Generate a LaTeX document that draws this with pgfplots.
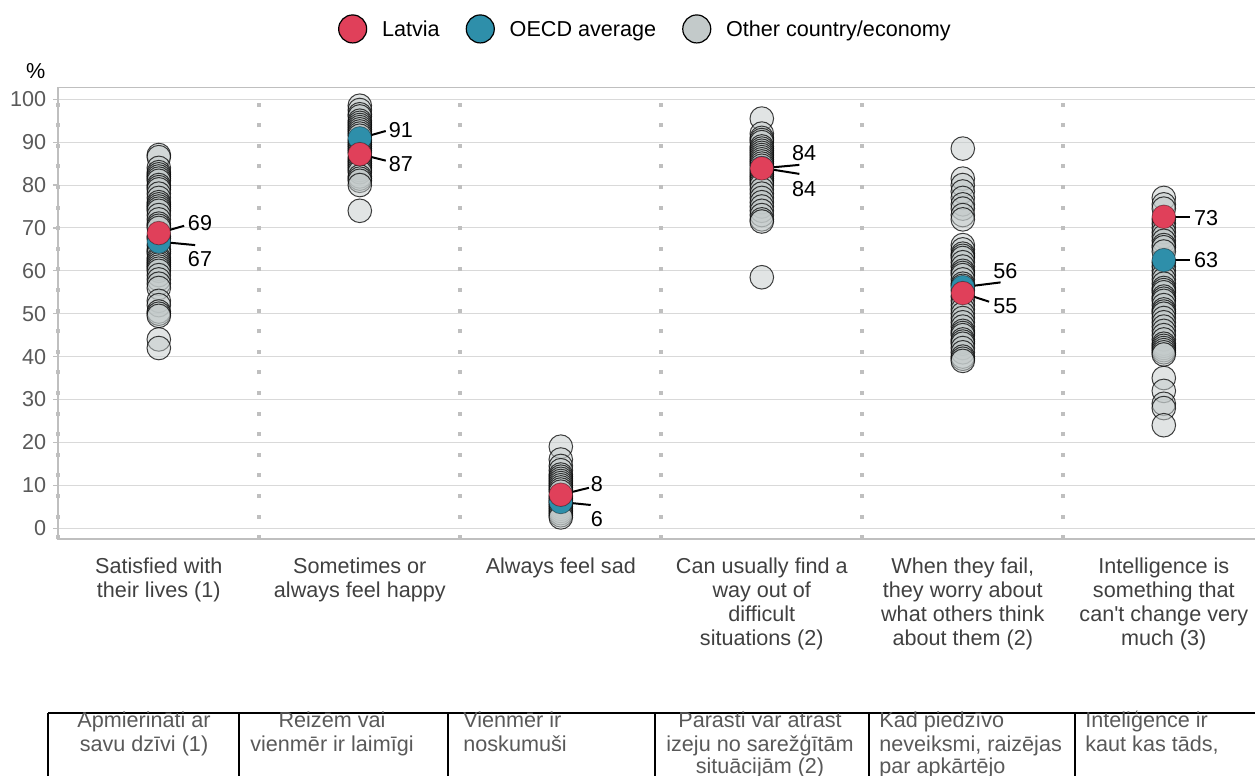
\documentclass[border=0pt]{standalone}
\usepackage{pgfplots}
\pgfplotsset{compat=1.18}
\usepackage{fontspec}
\setmainfont{Liberation Sans}
\definecolor{latvia}{HTML}{E0405A}
\definecolor{oecd}{HTML}{2E8FAA}
\definecolor{other}{HTML}{C3CACA}
\definecolor{txt}{HTML}{404040}
\definecolor{ticktxt}{HTML}{595959}
\definecolor{gridc}{HTML}{D9D9D9}
\definecolor{sepc}{HTML}{BFBFBF}
\newcommand{\fs}{\fontsize{10.8}{12}\selectfont}
\newcommand{\ls}{\rule[-0.1em]{0pt}{0.92em}}

\begin{document}
\begin{tikzpicture}[x=1pt,y=1pt]
\useasboundingbox (0,0) rectangle (627.5,388);
\begin{axis}[
  at={(29.15pt,118.35pt)}, anchor=south west,
  scale only axis, width=603pt, height=225.8pt,
  xmin=-0.5, xmax=5.5, ymin=-2.6, ymax=102.7,
  clip=false,
  axis line style={draw=sepc, line width=0.8pt},
  ytick={0,10,...,100},
  ymajorgrids, grid style={draw=gridc, line width=0.5pt},
  tick align=outside, major tick length=2.5pt,
  xtick={0,1,2,3,4,5},
  xtick style={draw=none},
  ytick style={draw=sepc, line width=0.6pt},
  xticklabels={{Satisfied with\\their lives (1)},{Sometimes or\\always feel happy},{Always feel sad},{Can usually find a\\way out of\\difficult\\situations (2)},{When they fail,\\they worry about\\what others think\\about them (2)},{Intelligence is\\something that\\can\textquotesingle t change very\\much (3)}},
  xticklabel style={align=center, anchor=north, text=txt, font=\fs, yshift=-3pt},
  yticklabel style={text=ticktxt, font=\fs},
  /pgf/number format/assume math mode=true,
  legend columns=3,
  legend style={draw=none, fill=none, font=\fs, at={(axis cs:0.86,116.4)}, anchor=west,
    /tikz/every even column/.append style={column sep=11pt}},
  legend image code/.code={\draw[#1, draw=black, line width=0.6pt] (7pt,0) circle (7pt); \path (19.5pt,0);},
]
\addlegendimage{fill=latvia}\addlegendentry{\ls Latvia}
\addlegendimage{fill=oecd}\addlegendentry{\ls OECD average}
\addlegendimage{fill=other}\addlegendentry{\ls Other country/economy}

% column separators
\foreach \s in {-0.5,0.5,1.5,2.5,3.5,4.5} {
  \edef\tmp{\noexpand\draw[sepc, line width=2pt, dash pattern=on 2pt off 8.3pt] (axis cs:\s,-2.6) -- (axis cs:\s,102.7);}
  \tmp
}

\pgfplotsset{others/.style={only marks, mark=*, mark size=5.9pt, forget plot,
  mark options={fill=other, fill opacity=0.5, draw=black, draw opacity=0.75, line width=0.5pt}}}

\addplot[others] coordinates {(0,87)(0,86.5)(0,84)(0,83)(0,82.5)(0,82)(0,81.5)(0,81)(0,80)(0,79.5)(0,79)(0,78)(0,77)(0,76)(0,75.5)(0,75)(0,74.5)(0,74)(0,73)(0,72)(0,71)(0,70.5)(0,70)(0,68)(0,67.5)(0,66)(0,65)(0,64.5)(0,64)(0,63)(0,62.5)(0,62)(0,61.5)(0,61)(0,60.5)(0,60)(0,59)(0,58)(0,57)(0,56)(0,53)(0,52)(0,50.5)(0,50)(0,49.5)(0,44)(0,42)};
\addplot[others] coordinates {(1,98.5)(1,97.5)(1,96.5)(1,96)(1,95)(1,94.5)(1,94)(1,93.5)(1,93)(1,92.5)(1,92)(1,91.5)(1,90.5)(1,90)(1,89.5)(1,89)(1,88.5)(1,88)(1,87.5)(1,86.5)(1,86)(1,85.5)(1,85)(1,84.5)(1,84)(1,83.5)(1,83)(1,82)(1,81.5)(1,81)(1,80)(1,74)};
\addplot[others] coordinates {(2,19)(2,16)(2,14.5)(2,13.5)(2,12.5)(2,12)(2,11.5)(2,11)(2,10.5)(2,10)(2,9.5)(2,9)(2,8.5)(2,7.5)(2,7)(2,6.5)(2,6)(2,5.5)(2,5)(2,4.5)(2,4)(2,3.5)(2,3)(2,2.5)};
\addplot[others] coordinates {(3,95.5)(3,92)(3,91)(3,90.5)(3,90)(3,89)(3,88.5)(3,88)(3,87.5)(3,87)(3,86.5)(3,86)(3,85.5)(3,85)(3,84.5)(3,83.5)(3,83)(3,82.5)(3,82)(3,81.5)(3,81)(3,80.5)(3,80)(3,79)(3,78)(3,77)(3,76)(3,75)(3,74)(3,73)(3,72)(3,71.5)(3,58.5)};
\addplot[others] coordinates {(4,88.5)(4,81.5)(4,80)(4,78.5)(4,77)(4,75.5)(4,74.5)(4,73)(4,72)(4,66)(4,65)(4,64)(4,63.5)(4,63)(4,62)(4,61)(4,60)(4,59.5)(4,59)(4,58)(4,57)(4,56.5)(4,55.5)(4,54)(4,53)(4,52)(4,51)(4,50)(4,49)(4,48)(4,47)(4,46)(4,45.5)(4,45)(4,44)(4,43.5)(4,43)(4,42)(4,41)(4,40)(4,39.5)(4,39)};
\addplot[others] coordinates {(5,77)(5,75.5)(5,74.5)(5,72)(5,71)(5,70)(5,69)(5,68)(5,67)(5,66)(5,65.5)(5,64.5)(5,62)(5,61)(5,60)(5,59)(5,58)(5,57)(5,56)(5,55.5)(5,55)(5,54)(5,53.5)(5,53)(5,52)(5,51)(5,50.5)(5,50)(5,49)(5,48)(5,47)(5,46)(5,45)(5,44)(5,43)(5,42.5)(5,42)(5,41.5)(5,41)(5,40.5)(5,35)(5,32)(5,29)(5,28)(5,24)};

% OECD average
\addplot[only marks, mark=*, mark size=5.9pt, forget plot,
  mark options={fill=oecd, draw=black, draw opacity=0.4, line width=0.4pt}]
  coordinates {(0,66.8)(1,90.9)(2,6.1)(3,84)(4,56.2)(5,62.5)};
% Latvia
\addplot[only marks, mark=*, mark size=5.9pt, forget plot,
  mark options={fill=latvia, draw=black, draw opacity=0.4, line width=0.4pt}]
  coordinates {(0,68.8)(1,87.2)(2,7.8)(3,83.9)(4,54.8)(5,72.6)};

% value labels
\tikzset{lead/.style={black, line width=1pt}, vl/.style={font=\fs, text=black, inner sep=0pt}}
\draw[lead] (axis cs:0,68.8) -- (axis cs:0.126,70.5); \node[vl] at (axis cs:0.205,71.1) {69};
\draw[lead] (axis cs:0,66.8) -- (axis cs:0.181,66.0); \node[vl] at (axis cs:0.205,62.8) {67};
\draw[lead] (axis cs:1,90.9) -- (axis cs:1.129,92.6); \node[vl] at (axis cs:1.204,92.8) {91};
\draw[lead] (axis cs:1,87.2) -- (axis cs:1.129,85.7); \node[vl] at (axis cs:1.204,84.8) {87};
\draw[lead] (axis cs:2,7.8) -- (axis cs:2.14,9.4); \node[vl] at (axis cs:2.179,10.3) {8};
\draw[lead] (axis cs:2,6.1) -- (axis cs:2.149,5.4); \node[vl] at (axis cs:2.179,2.2) {6};
\draw[lead] (axis cs:3,83.9) -- (axis cs:3.187,84.7); \node[vl] at (axis cs:3.211,87.4) {84};
\draw[lead] (axis cs:3,84) -- (axis cs:3.187,82.6); \node[vl] at (axis cs:3.211,79.1) {84};
\draw[lead] (axis cs:4,56.2) -- (axis cs:4.188,57.3); \node[vl] at (axis cs:4.212,60.0) {56};
\draw[lead] (axis cs:4,54.8) -- (axis cs:4.131,52.8); \node[vl] at (axis cs:4.212,51.7) {55};
\draw[lead] (axis cs:5,72.6) -- (axis cs:5.13,72.6); \node[vl] at (axis cs:5.211,72.4) {73};
\draw[lead] (axis cs:5,62.5) -- (axis cs:5.13,62.5); \node[vl] at (axis cs:5.211,62.4) {63};

\node[font=\fs, text=black] at (axis cs:-0.612,106.6) {\%};
\end{axis}

% Latvian table below the chart
\draw[black, line width=1pt] (24,31.5) -- (640,31.5);
\foreach \xx in {24,119.25,224,327.5,434.5,537.5} {\draw[black, line width=1pt] (\xx,31.5) -- (\xx,-5);}
\begin{scope}[every node/.style={font=\fs, text=ticktxt, inner sep=0pt}]
\node[anchor=base] at (72,24) {Apmierināti ar};
\node[anchor=base] at (72,12) {savu dzīvi (1)};
\node[anchor=base] at (166,24) {Reizēm vai};
\node[anchor=base] at (166,12) {vienmēr ir laimīgi};
\node[anchor=base west] at (231.5,24) {Vienmēr ir};
\node[anchor=base west] at (231.5,12) {noskumuši};
\node[anchor=base] at (380,24) {Parasti var atrast};
\node[anchor=base] at (380,12) {izeju no sarežģītām};
\node[anchor=base] at (380,1) {situācijām (2)};
\node[anchor=base west] at (439.5,24) {Kad piedzīvo};
\node[anchor=base west] at (439.5,12) {neveiksmi, raizējas};
\node[anchor=base west] at (439.5,1) {par apkārtējo};
\node[anchor=base west] at (542.5,24) {Inteliģence ir};
\node[anchor=base west] at (542.5,12) {kaut kas tāds,};
\end{scope}
\end{tikzpicture}
\end{document}
